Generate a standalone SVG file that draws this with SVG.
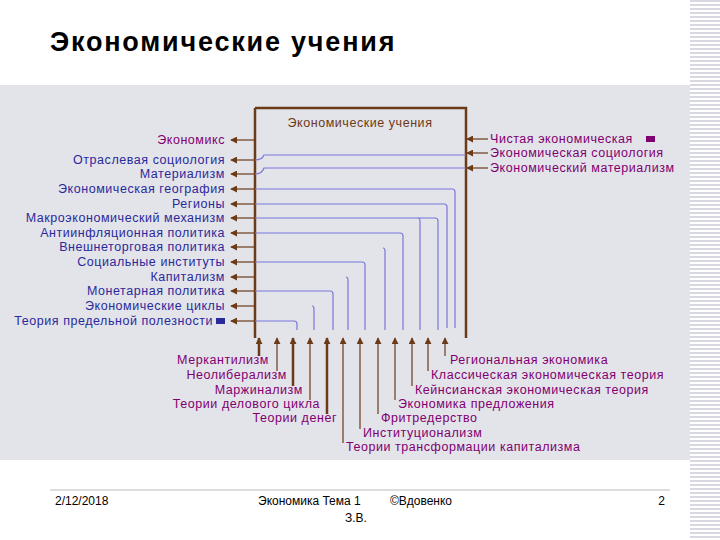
<svg xmlns="http://www.w3.org/2000/svg" width="720" height="540" viewBox="0 0 720 540">
<defs>
<marker id="al" viewBox="0 0 8 8" refX="7" refY="4" markerWidth="7" markerHeight="7" markerUnits="userSpaceOnUse" orient="auto"><path d="M0,0L8,4L0,8z" fill="#6b3a16"/></marker>
<pattern id="st" width="4" height="4" patternUnits="userSpaceOnUse"><rect width="4" height="2" fill="#d8d8e0"/></pattern>
</defs>
<style>
text{font-family:"Liberation Sans",Arial,sans-serif;font-size:12.5px;letter-spacing:0.55px}
.l{fill:#2a2a9a;text-anchor:end}
.p{fill:#800070}
.pe{fill:#800070;text-anchor:end}
.br{stroke:#6b3a16;stroke-width:1.2;fill:none}
.bb{stroke:#6b3a16;stroke-width:2.5;fill:none}
.bl{stroke:#7a78d8;stroke-width:1.2;fill:none}
</style>
<rect width="720" height="540" fill="#fff"/>
<rect x="690" y="0" width="30" height="540" fill="url(#st)"/>
<rect x="0" y="85" width="690" height="375" fill="#e3e3ea"/>
<text x="50" y="51" style="font-size:27px;font-weight:bold;fill:#000;letter-spacing:1.8px">Экономические учения</text>
<g id="box"><path d="M255,108H466V338" class="bb"/><line x1="255" y1="108" x2="255" y2="338" class="bb"/>
<text x="360" y="127" text-anchor="middle" fill="#6b3a16">Экономические учения</text></g>
<g id="connectors">
<line x1="255" y1="140" x2="231" y2="140" class="br" marker-end="url(#al)"/>
<line x1="255" y1="160" x2="231" y2="160" class="br" marker-end="url(#al)"/>
<line x1="255" y1="174" x2="231" y2="174" class="br" marker-end="url(#al)"/>
<line x1="255" y1="189" x2="231" y2="189" class="br" marker-end="url(#al)"/>
<line x1="255" y1="204" x2="231" y2="204" class="br" marker-end="url(#al)"/>
<line x1="255" y1="218" x2="231" y2="218" class="br" marker-end="url(#al)"/>
<line x1="255" y1="233" x2="231" y2="233" class="br" marker-end="url(#al)"/>
<line x1="255" y1="247" x2="231" y2="247" class="br" marker-end="url(#al)"/>
<line x1="255" y1="262" x2="231" y2="262" class="br" marker-end="url(#al)"/>
<line x1="255" y1="277" x2="231" y2="277" class="br" marker-end="url(#al)"/>
<line x1="255" y1="291" x2="231" y2="291" class="br" marker-end="url(#al)"/>
<line x1="255" y1="306" x2="231" y2="306" class="br" marker-end="url(#al)"/>
<line x1="255" y1="321" x2="231" y2="321" class="br" marker-end="url(#al)"/>
<line x1="488" y1="139" x2="467" y2="139" class="br" marker-end="url(#al)"/>
<line x1="488" y1="153" x2="467" y2="153" class="br" marker-end="url(#al)"/>
<line x1="488" y1="168" x2="467" y2="168" class="br" marker-end="url(#al)"/>
<path d="M255,160Q262,160 264,155H466" class="bl"/>
<path d="M255,174Q262,174 264,168H466" class="bl"/>
<path d="M255,189H452Q455,189 455,192V328" class="bl"/>
<path d="M255,204H444Q447,204 447,207V328" class="bl"/>
<path d="M255,218H435Q438,218 438,221V330" class="bl"/>
<path d="M418,218Q420,218 420,221V330" class="bl"/>
<path d="M255,233H400Q403,233 403,236V330" class="bl"/>
<path d="M383,248Q385,248 385,251V330" class="bl"/>
<path d="M255,262H362Q365,262 365,265V330" class="bl"/>
<path d="M346,277Q348,277 348,280V330" class="bl"/>
<path d="M255,291H330Q333,291 333,294V330" class="bl"/>
<path d="M312,306Q314,306 314,309V330" class="bl"/>
<path d="M255,321H294Q297,321 297,324V330" class="bl"/>
<g class="br">
<path d="M259,356V338" marker-end="url(#al)" class="bb"/>
<path d="M277,371V338" marker-end="url(#al)"/>
<path d="M293,386V338" marker-end="url(#al)" class="bb"/>
<path d="M310,400V338" marker-end="url(#al)"/>
<path d="M327,414V338" marker-end="url(#al)" class="bb"/>
<path d="M343,443V338" marker-end="url(#al)"/>
<path d="M360,429V338" marker-end="url(#al)"/>
<path d="M378,414V338" marker-end="url(#al)"/>
<path d="M395,400V338" marker-end="url(#al)"/>
<path d="M412,386V338" marker-end="url(#al)"/>
<path d="M428,371V338" marker-end="url(#al)"/>
<path d="M445,356V338" marker-end="url(#al)"/>
</g>
</g>
<g id="left-labels">
<text class="pe" x="225" y="144">Экономикс</text>
<text class="l" x="225" y="164">Отраслевая социология</text>
<text class="l" x="225" y="178">Материализм</text>
<text class="l" x="225" y="193">Экономическая география</text>
<text class="l" x="225" y="208">Регионы</text>
<text class="l" x="225" y="222">Макроэкономический механизм</text>
<text class="l" x="225" y="237">Антиинфляционная политика</text>
<text class="l" x="225" y="251">Внешнеторговая политика</text>
<text class="l" x="225" y="266">Социальные институты</text>
<text class="l" x="225" y="281">Капитализм</text>
<text class="l" x="225" y="295">Монетарная политика</text>
<text class="l" x="225" y="310">Экономические циклы</text>
<text class="l" x="213" y="325">Теория предельной полезности</text>
<rect x="216" y="318" width="9" height="6" fill="#2a2a9a"/>
</g>
<g id="right-labels">
<text class="p" x="490" y="143">Чистая экономическая</text>
<rect x="646" y="136" width="9" height="6" fill="#800070"/>
<text class="p" x="490" y="157">Экономическая социология</text>
<text class="p" x="490" y="172">Экономический материализм</text>
</g>
<g id="bottom-labels">
<text class="pe" x="269" y="364">Меркантилизм</text>
<text class="pe" x="287" y="379">Неолиберализм</text>
<text class="pe" x="303" y="394">Маржинализм</text>
<text class="pe" x="320" y="408">Теории делового цикла</text>
<text class="pe" x="337" y="422">Теории денег</text>
<text class="p" x="346" y="451">Теории трансформации капитализма</text>
<text class="p" x="363" y="437">Институционализм</text>
<text class="p" x="381" y="422">Фритредерство</text>
<text class="p" x="398" y="408">Экономика предложения</text>
<text class="p" x="415" y="394">Кейнсианская экономическая теория</text>
<text class="p" x="431" y="379">Классическая экономическая теория</text>
<text class="p" x="450" y="364">Региональная экономика</text>
</g>
<line x1="50" y1="490" x2="670" y2="490" stroke="#aaa" stroke-width="0.8"/>
<g>
<text x="55" y="505" style="font-size:12px;fill:#000;letter-spacing:0">2/12/2018</text>
<text x="258" y="505" style="font-size:12px;fill:#000;letter-spacing:0">Экономика Тема 1</text>
<text x="390" y="505" style="font-size:12px;fill:#000;letter-spacing:0">©Вдовенко</text>
<text x="345" y="522" style="font-size:12px;fill:#000;letter-spacing:0">З.В.</text>
<text x="665" y="505" style="font-size:12px;fill:#000;text-anchor:end;letter-spacing:0">2</text>
</g>
</svg>
